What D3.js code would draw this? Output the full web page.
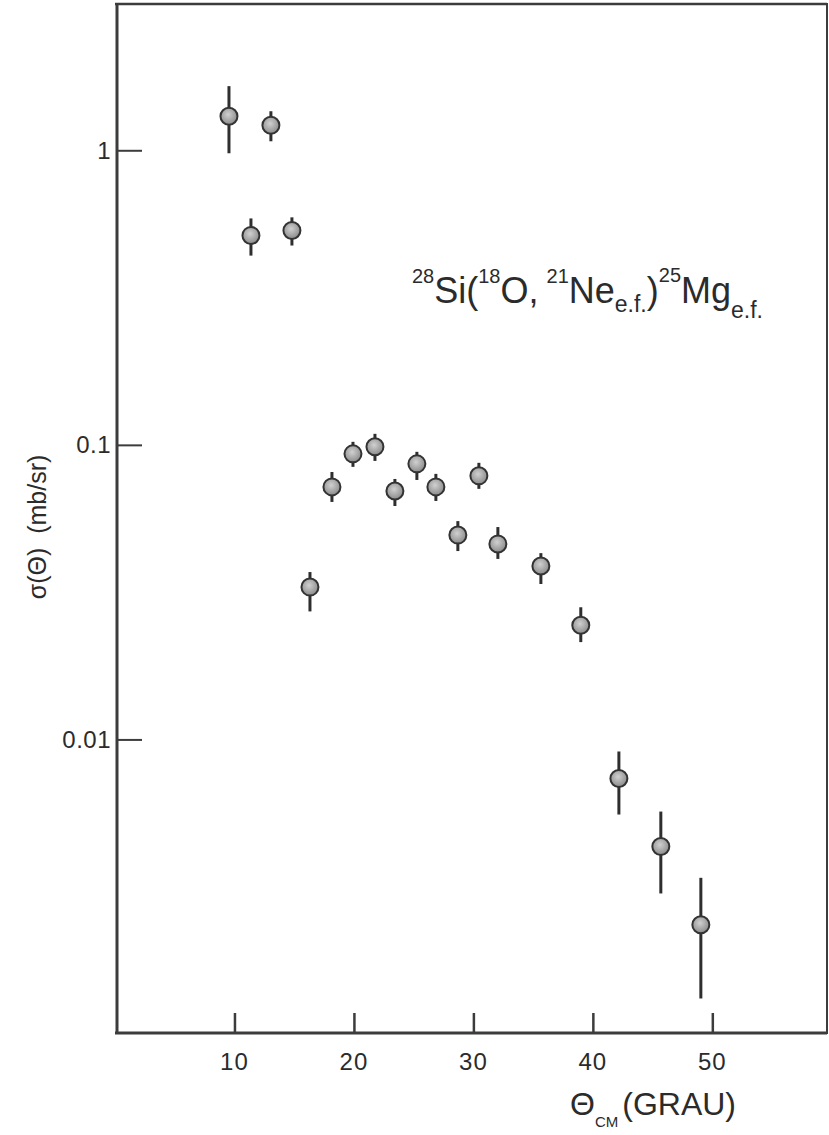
<!DOCTYPE html>
<html>
<head>
<meta charset="utf-8">
<script src="https://cdn.jsdelivr.net/npm/d3@7"></script>
<style>
  html, body { margin: 0; padding: 0; background: #ffffff; }
  svg { display: block; }
  text { font-family: "Liberation Sans", Arial, Helvetica, sans-serif; fill: #2b2b2b; }
</style>
</head>
<body>
<div id="chart"></div>
<script>
// Centre-of-mass angle (degrees) of each measured point
const theta = [9.54, 11.38, 13.05, 14.81, 16.32, 18.16, 19.92, 21.76, 23.43, 25.27,
               26.86, 28.70, 30.46, 32.05, 35.65, 38.99, 42.18, 45.69, 49.04];
// Differential cross section (mb/sr)
const sigma = [1.305, 0.514, 1.216, 0.534, 0.0329, 0.0720, 0.0932, 0.0985, 0.0697, 0.0862,
               0.0720, 0.0494, 0.0785, 0.0461, 0.0388, 0.0244, 0.00737, 0.00433, 0.00235];
// Upper and lower ends of the error bars (mb/sr)
const sigmaHi = [1.651, 0.587, 1.357, 0.592, 0.0370, 0.0809, 0.1024, 0.109, 0.0766, 0.0947,
                 0.0797, 0.0551, 0.0869, 0.0526, 0.0429, 0.0281, 0.0091, 0.00569, 0.00339];
const sigmaLo = [0.977, 0.439, 1.073, 0.475, 0.0272, 0.0640, 0.0842, 0.0882, 0.0620, 0.0760,
                 0.0645, 0.0436, 0.0709, 0.0410, 0.0337, 0.0214, 0.00556, 0.00300, 0.00132];

// Axis ticks
const xTicks = [10, 20, 30, 40, 50];
const xTickLabels = ["10", "20", "30", "40", "50"];
const yTicks = [1, 0.1, 0.01];
const yTickLabels = ["1", "0.1", "0.01"];

const W = 829, H = 1135;
const svg = d3.select("#chart").append("svg")
  .attr("width", W).attr("height", H);

const x = d3.scaleLinear().domain([0, 59.6]).range([115, 827]);
const y = d3.scaleLog().domain([0.001, Math.sqrt(10)]).range([1034, 3]);

const frameColor = "#3c3c3c";
const [x0, x1] = x.range();
const [y0, y1] = y.range();

// Plot frame: heavier left and bottom edges
svg.append("line").attr("x1", x0).attr("x2", x1).attr("y1", y1 + 1).attr("y2", y1 + 1)
  .attr("stroke", frameColor).attr("stroke-width", 2.5);
svg.append("line").attr("x1", x1).attr("x2", x1).attr("y1", y1).attr("y2", y0)
  .attr("stroke", frameColor).attr("stroke-width", 2);
svg.append("line").attr("x1", x0 + 2).attr("x2", x0 + 2).attr("y1", y1).attr("y2", y0)
  .attr("stroke", frameColor).attr("stroke-width", 3);
svg.append("line").attr("x1", x0).attr("x2", x1).attr("y1", y0 - 1).attr("y2", y0 - 1)
  .attr("stroke", frameColor).attr("stroke-width", 3);

// Bottom axis: ticks point up into the plot
const xAxis = d3.axisTop(x)
  .tickValues(xTicks)
  .tickSize(20)
  .tickFormat("");
const gx = svg.append("g").attr("transform", `translate(0,${y0 - 1})`).call(xAxis);
gx.select(".domain").remove();
gx.selectAll(".tick line").attr("stroke", frameColor).attr("stroke-width", 2.5);

svg.append("g").selectAll("text").data(xTicks).join("text")
  .attr("x", d => x(d))
  .attr("y", 1070)
  .attr("text-anchor", "middle")
  .attr("font-size", 24)
  .attr("letter-spacing", 1)
  .text((d, i) => xTickLabels[i]);

// Left axis: ticks point right into the plot
const yAxis = d3.axisRight(y)
  .tickValues(yTicks)
  .tickSize(24)
  .tickFormat("");
const gy = svg.append("g").attr("transform", `translate(${x0 + 3},0)`).call(yAxis);
gy.select(".domain").remove();
gy.selectAll(".tick line").attr("stroke", frameColor).attr("stroke-width", 2);

svg.append("g").selectAll("text").data(yTicks).join("text")
  .attr("x", 111)
  .attr("y", d => y(d))
  .attr("dy", "0.36em")
  .attr("text-anchor", "end")
  .attr("font-size", 24)
  .attr("letter-spacing", 0.5)
  .text((d, i) => yTickLabels[i]);

// Error bars
const pts = theta.map((t, i) => ({ t, s: sigma[i], hi: sigmaHi[i], lo: sigmaLo[i] }));
svg.append("g").selectAll("line").data(pts).join("line")
  .attr("x1", d => x(d.t)).attr("x2", d => x(d.t))
  .attr("y1", d => y(d.hi)).attr("y2", d => y(d.lo))
  .attr("stroke", "#2e2e2e").attr("stroke-width", 3);

// Shaded markers
const defs = svg.append("defs");
const grad = defs.append("radialGradient").attr("id", "dotFill")
  .attr("cx", "45%").attr("cy", "40%").attr("r", "60%");
grad.append("stop").attr("offset", "0%").attr("stop-color", "#d0d0d0");
grad.append("stop").attr("offset", "100%").attr("stop-color", "#8a8a8a");

svg.append("g").selectAll("circle").data(pts).join("circle")
  .attr("cx", d => x(d.t)).attr("cy", d => y(d.s))
  .attr("r", 8.5)
  .attr("fill", "url(#dotFill)")
  .attr("stroke", "#333333").attr("stroke-width", 2);

// Reaction label
const lab = svg.append("text").attr("x", 412).attr("y", 303).attr("font-size", 36);
lab.append("tspan").attr("font-size", 20).attr("dy", -20).text("28");
lab.append("tspan").attr("dy", 20).text("Si(");
lab.append("tspan").attr("font-size", 20).attr("dy", -20).text("18");
lab.append("tspan").attr("dy", 20).text("O,");
lab.append("tspan").attr("font-size", 20).attr("dy", -20).attr("dx", 8).text("21");
lab.append("tspan").attr("dy", 20).text("Ne");
lab.append("tspan").attr("font-size", 23).attr("dy", 9).text("e.f.");
lab.append("tspan").attr("dy", -9).text(")");
lab.append("tspan").attr("font-size", 20).attr("dy", -21).text("25");
lab.append("tspan").attr("dy", 21).text("Mg");
lab.append("tspan").attr("font-size", 23).attr("dy", 15).text("e.f.");

// X axis title
const xt = svg.append("text").attr("x", 570).attr("y", 1115).attr("font-size", 32);
xt.append("tspan").text("Θ");
xt.append("tspan").attr("font-size", 15).attr("dy", 12).text("CM");
xt.append("tspan").attr("font-size", 32).attr("dy", -12).attr("dx", 4).text("(GRAU)");

// Y axis title
svg.append("text")
  .attr("transform", "translate(46,527) rotate(-90)")
  .attr("text-anchor", "middle")
  .attr("font-size", 25)
  .attr("xml:space", "preserve")
  .text("σ(Θ)  (mb/sr)");
</script>
</body>
</html>
